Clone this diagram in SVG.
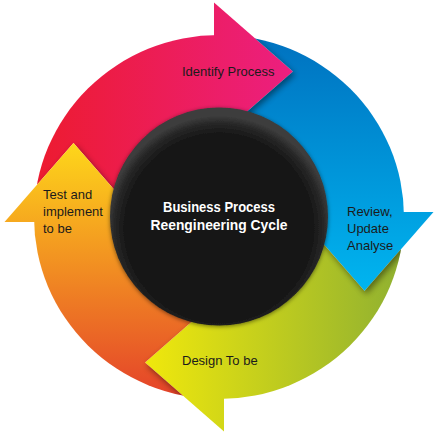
<svg xmlns="http://www.w3.org/2000/svg" width="438" height="436" viewBox="0 0 438 436">
  <defs>
    <style>
      .lbl { font-family: "Liberation Sans", Arial, sans-serif; font-size: 13px; fill: #1b1b1b; }
      .ctr { font-family: "Liberation Sans", Arial, sans-serif; font-size: 14px; font-weight: bold; fill: #ffffff; text-anchor: middle; }
      .shadow { fill: #000; opacity: 0.45; filter: url(#blur); }
    </style>
    <linearGradient id="gRed" gradientUnits="userSpaceOnUse" x1="35" y1="0" x2="293" y2="0">
      <stop offset="0" stop-color="#ed1b2f"/>
      <stop offset="1" stop-color="#ec1f80"/>
    </linearGradient>
    <linearGradient id="gBlue" gradientUnits="userSpaceOnUse" x1="0" y1="35" x2="0" y2="291">
      <stop offset="0" stop-color="#0071bf"/>
      <stop offset="1" stop-color="#00b5f0"/>
    </linearGradient>
    <linearGradient id="gGreen" gradientUnits="userSpaceOnUse" x1="404" y1="0" x2="145" y2="0">
      <stop offset="0" stop-color="#8fb031"/>
      <stop offset="1" stop-color="#f0e80c"/>
    </linearGradient>
    <linearGradient id="gOrange" gradientUnits="userSpaceOnUse" x1="0" y1="399" x2="0" y2="143">
      <stop offset="0" stop-color="#e4412a"/>
      <stop offset="1" stop-color="#fed71a"/>
    </linearGradient>
    <radialGradient id="gBlack" gradientUnits="userSpaceOnUse" cx="219" cy="228" r="112">
      <stop offset="0" stop-color="#131313"/>
      <stop offset="0.82" stop-color="#141414"/>
      <stop offset="0.93" stop-color="#262626"/>
      <stop offset="1" stop-color="#3c3c3c"/>
    </radialGradient>
    <filter id="blur" x="-20%" y="-20%" width="140%" height="140%">
      <feGaussianBlur stdDeviation="3"/>
    </filter>
    <filter id="circShadow" x="-10%" y="-10%" width="120%" height="120%">
      <feDropShadow dx="0" dy="1" stdDeviation="2" flood-color="#000" flood-opacity="0.5"/>
    </filter>
    <clipPath id="ring"><ellipse cx="219" cy="217" rx="185" ry="182"/></clipPath>
    <clipPath id="secRed"><polygon points="219,217 142.5,222 73.5,143 4.5,222 -30,262 -60,262 -60,-60 216,-60 216,217"/></clipPath>
    <clipPath id="secBlue"><polygon points="219,217 214,140.5 293,71.5 214,2.5 174,-32.5 500,-60 500,214 219,214"/></clipPath>
    <clipPath id="secGreen"><polygon points="219,217 295.5,212 364.5,291 433.5,212 470,170 520,170 520,500 222,500 222,217"/></clipPath>
    <clipPath id="secOrange"><polygon points="219,217 224,293.5 145,362.5 224,431.5 264,466 264,520 -60,520 -60,220 219,220"/></clipPath>
  </defs>

  <g id="connectors"/>

  <g id="node-identify">
    <g clip-path="url(#ring)">
      <g clip-path="url(#secRed)">
        <rect x="0" y="0" width="438" height="436" fill="url(#gRed)"/>
        <polygon class="shadow" points="4.5,222 73.5,143 142.5,222" transform="translate(2,3)"/>
      </g>
    </g>
    <polygon points="214,2.5 293,71.5 214,140.5" fill="url(#gRed)"/>
    <text class="lbl" x="182" y="75.5">Identify Process</text>
  </g>

  <g id="node-review">
    <g clip-path="url(#ring)">
      <g clip-path="url(#secBlue)">
        <rect x="0" y="0" width="438" height="436" fill="url(#gBlue)"/>
        <polygon class="shadow" points="214,2.5 293,71.5 214,140.5" transform="translate(2,3)"/>
      </g>
    </g>
    <polygon points="433.5,212 364.5,291 295.5,212" fill="url(#gBlue)"/>
    <text class="lbl" x="347" y="216">Review,</text>
    <text class="lbl" x="347" y="233">Update</text>
    <text class="lbl" x="347" y="250">Analyse</text>
  </g>

  <g id="node-design">
    <g clip-path="url(#ring)">
      <g clip-path="url(#secGreen)">
        <rect x="0" y="0" width="438" height="436" fill="url(#gGreen)"/>
        <polygon class="shadow" points="433.5,212 364.5,291 295.5,212" transform="translate(2,3)"/>
      </g>
    </g>
    <polygon points="224,431.5 145,362.5 224,293.5" fill="url(#gGreen)"/>
    <text class="lbl" x="182" y="365">Design To be</text>
  </g>

  <g id="node-test">
    <g clip-path="url(#ring)">
      <g clip-path="url(#secOrange)">
        <rect x="0" y="0" width="438" height="436" fill="url(#gOrange)"/>
        <polygon class="shadow" points="224,431.5 145,362.5 224,293.5" transform="translate(2,3)"/>
      </g>
    </g>
    <polygon points="4.5,222 73.5,143 142.5,222" fill="url(#gOrange)"/>
    <text class="lbl" x="43" y="199">Test and</text>
    <text class="lbl" x="43" y="216">implement</text>
    <text class="lbl" x="43" y="233">to be</text>
  </g>

  <g id="node-center">
    <circle cx="219" cy="216.5" r="109" fill="url(#gBlack)" filter="url(#circShadow)"/>
    <text class="ctr" x="219" y="212" textLength="112" lengthAdjust="spacingAndGlyphs">Business Process</text>
    <text class="ctr" x="219" y="230" textLength="137" lengthAdjust="spacingAndGlyphs">Reengineering Cycle</text>
  </g>
</svg>
